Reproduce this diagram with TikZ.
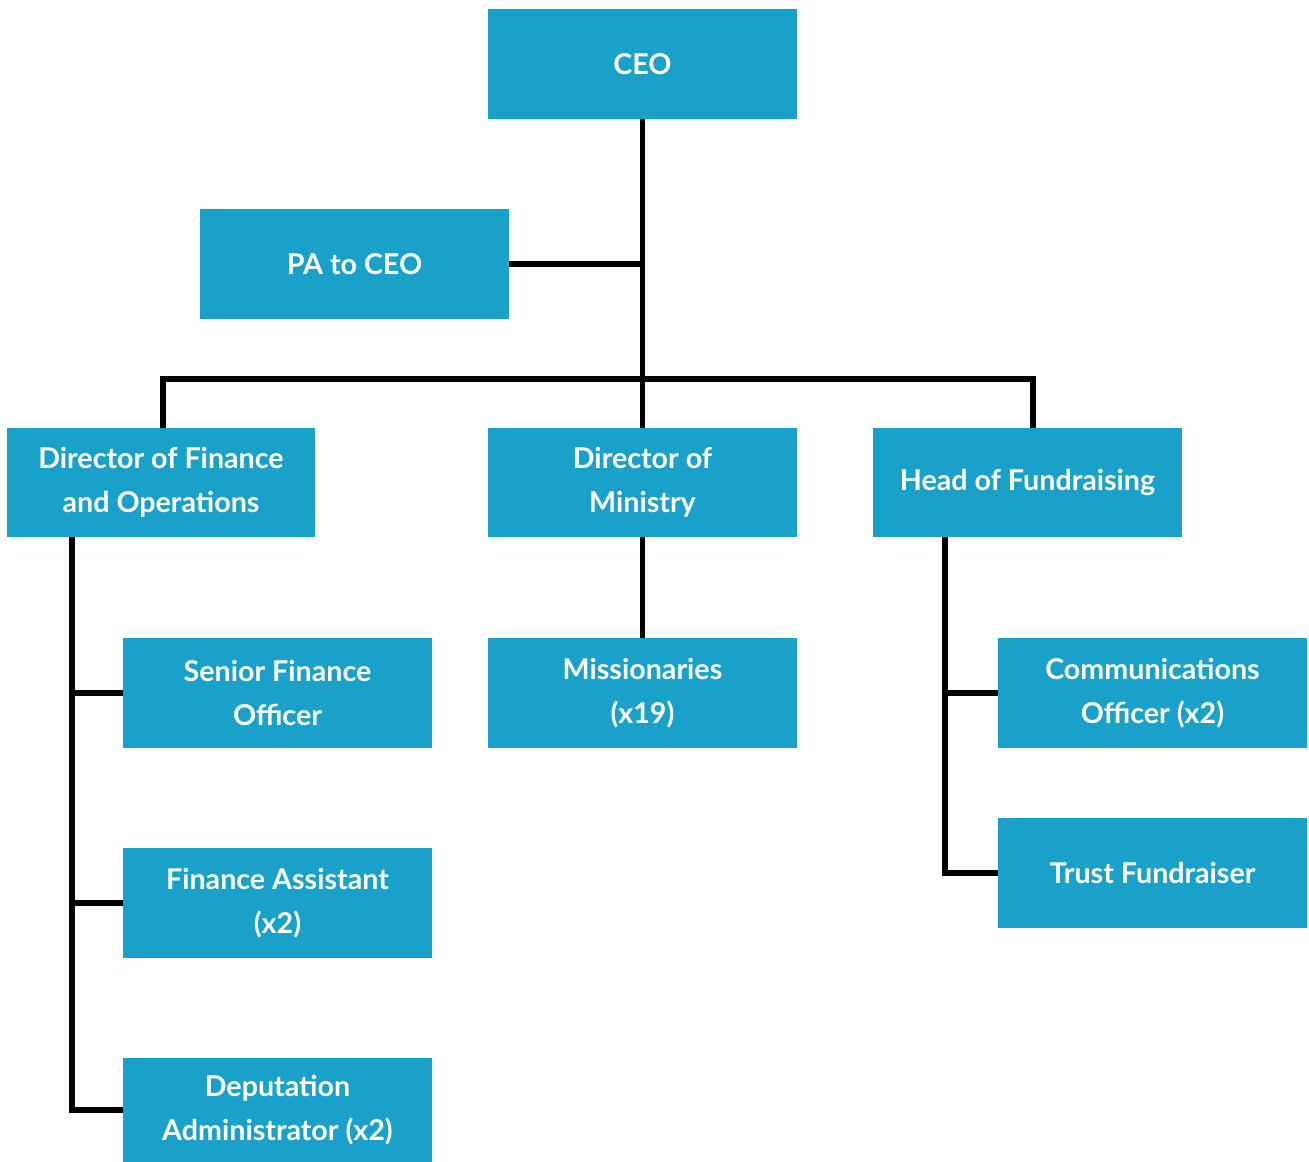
\documentclass[tikz,border=0pt]{standalone}
\usepackage{fontspec}
\setmainfont{Lato}
\usepackage{xcolor}
\definecolor{boxblue}{HTML}{1AA1C9}
\usetikzlibrary{positioning}

\begin{document}
\begin{tikzpicture}[x=0.02cm,y=-0.02cm,
    line width=3.4pt,
    role node/.style={fill=boxblue,text=white,minimum width=6.18cm,minimum height=2.2cm,
        inner sep=0pt,outer sep=0pt,align=center,font=\bfseries\fontsize{16.3}{25}\selectfont}]
    \useasboundingbox (0,0) rectangle (1309,1162);

    % top level
    \node[role node] (ceo) at (642.5,64) {CEO};
    \node[role node] (pa) at (354.5,264) {PA to CEO};

    % directors
    \node[role node] (finance) at (161,482.5) {Director of Finance\\and Operations};
    \node[role node] (ministry) at (642.5,482.5) {Director of\\Ministry};
    \node[role node] (fundraising) at (1027.5,482.5) {Head of Fundraising};

    % staff
    \node[role node] (senior) at (277.5,693) {Senior Finance\\Officer};
    \node[role node] (assistant) at (277.5,903) {Finance Assistant\\(x2)};
    \node[role node,minimum height=2.08cm] (deputation) at (277.5,1110) {Deputation\\Administrator (x2)};
    \node[role node] (missionaries) at (642.5,693) {Missionaries\\(x19)};
    \node[role node] (comms) at (1152.5,693) {Communications\\Officer (x2)};
    \node[role node] (trust) at (1152.5,873) {Trust Fundraiser};

    \coordinate (bar) at (642,379);
    \coordinate (ltrunk) at (72,537);
    \coordinate (rtrunk) at (945,537);

    \draw (ceo.south) -- (ministry.north);
    \draw (pa.east) -- (ceo.south |- pa.east);
    \draw ([xshift=0.04cm]finance.north) |- (bar) -| ([xshift=0.11cm]fundraising.north);
    \draw (ministry.south) -- (missionaries.north);

    \draw (ltrunk) |- (deputation.west);
    \draw (ltrunk |- senior.west) -- (senior.west);
    \draw (ltrunk |- assistant.west) -- (assistant.west);

    \draw (rtrunk) |- (trust.west);
    \draw (rtrunk |- comms.west) -- (comms.west);
\end{tikzpicture}
\end{document}
